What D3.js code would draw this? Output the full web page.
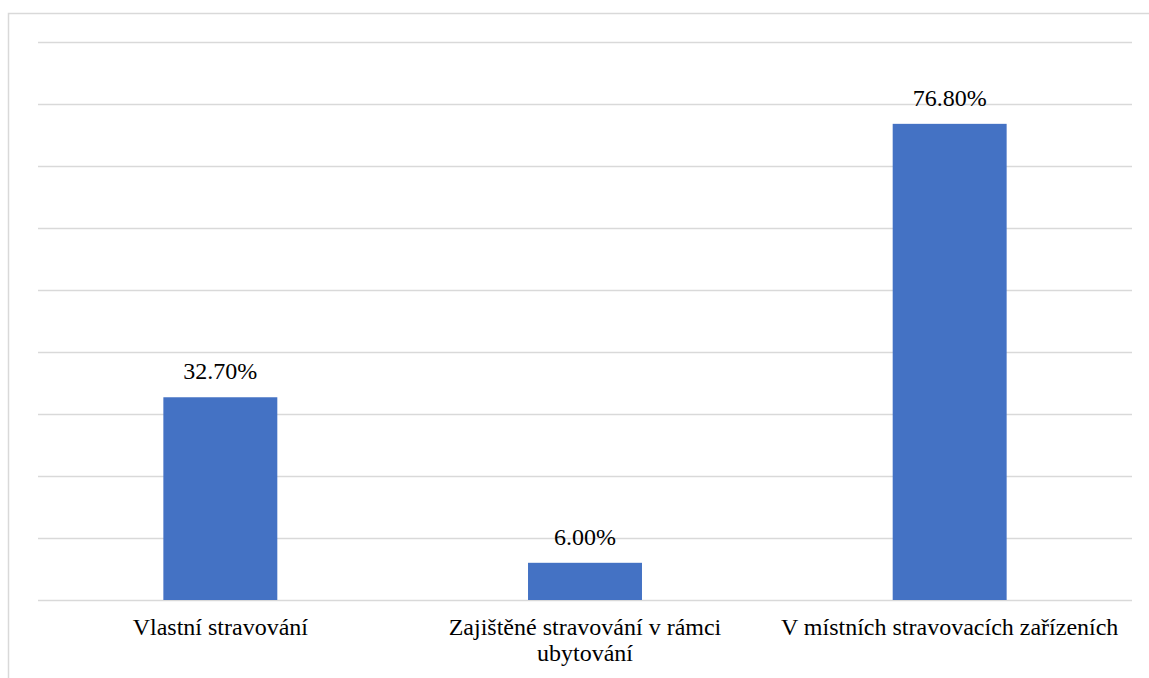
<!DOCTYPE html>
<html><head><meta charset="utf-8">
<script src="https://cdn.jsdelivr.net/npm/d3@7"></script>
<style>html,body{margin:0;padding:0;background:#fff;}
.t{font-family:"Liberation Serif","Times New Roman",Times,"Tinos","DejaVu Serif",serif;}</style>
</head><body>
<script>
const categories = [["Vlastní stravování"], ["Zajištěné stravování v rámci", "ubytování"], ["V místních stravovacích zařízeních"]];
const values = [32.7, 6.0, 76.8];
const valueLabels = ["32.70%", "6.00%", "76.80%"];
const yTicks = [0, 10, 20, 30, 40, 50, 60, 70, 80, 90];

const W = 1149, H = 678;
const svg = d3.select("body").append("svg").attr("width", W).attr("height", H);
const mLeft = 38, mRight = 1132, mTop = 42, mBottom = 600;

// border
svg.append("path").attr("d", `M8.5,${H} V13.5 H${W}`).attr("fill", "none").attr("stroke", "#d9d9d9").attr("stroke-width", 1.5);

const x = d3.scaleBand().domain(d3.range(values.length)).range([mLeft, mRight]).padding(0);
const y = d3.scaleLinear().domain([0, 90]).range([mBottom, mTop]);

svg.append("g").selectAll("line").data(yTicks).join("line")
  .attr("x1", mLeft).attr("x2", mRight)
  .attr("y1", d => Math.round(y(d)) + 0.5).attr("y2", d => Math.round(y(d)) + 0.5)
  .attr("stroke", "#d9d9d9").attr("stroke-width", 1.5);

const bw = x.bandwidth() * 0.3125;
svg.append("g").selectAll("rect").data(values).join("rect")
  .attr("x", (d, i) => x(i) + x.bandwidth() / 2 - bw / 2)
  .attr("width", bw)
  .attr("y", d => y(d))
  .attr("height", d => y(0) - y(d))
  .attr("fill", "#4472C4");

svg.append("g").selectAll("text").data(values).join("text")
  .attr("class", "t")
  .attr("x", (d, i) => x(i) + x.bandwidth() / 2)
  .attr("y", d => y(d) - 18)
  .attr("text-anchor", "middle")
  .attr("font-size", 24)
  .attr("fill", "#000")
  .text((d, i) => valueLabels[i]);

const lab = svg.append("g").selectAll("text").data(categories).join("text")
  .attr("class", "t")
  .attr("x", (d, i) => x(i) + x.bandwidth() / 2)
  .attr("y", 635)
  .attr("text-anchor", "middle")
  .attr("font-size", 24)
  .attr("fill", "#000");
lab.selectAll("tspan").data(d => d).join("tspan")
  .attr("x", function() { return this.parentNode.getAttribute("x"); })
  .attr("dy", (d, j) => j === 0 ? 0 : 26)
  .text(d => d);
</script>
</body></html>
